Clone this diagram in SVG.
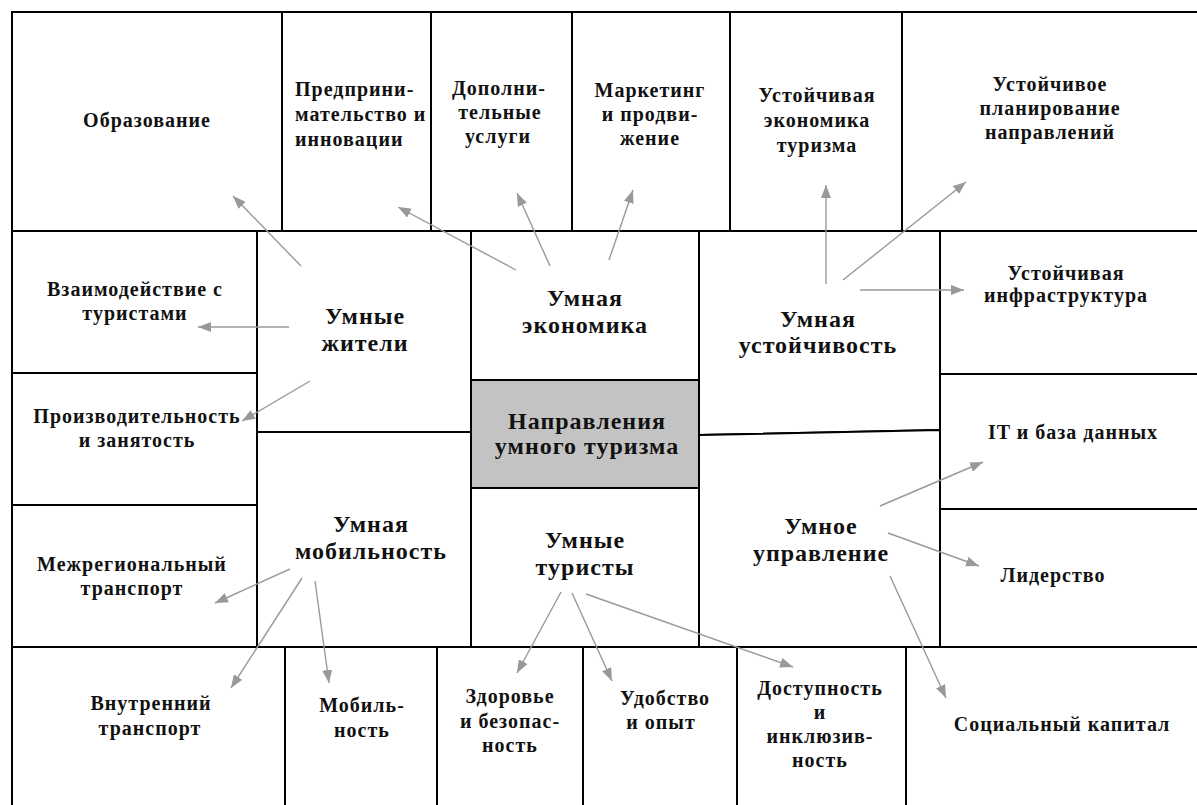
<svg xmlns="http://www.w3.org/2000/svg" width="1197" height="805" viewBox="0 0 1197 805">
<style>
.box{fill:#fff;stroke:#000;stroke-width:2}
.hub{fill:#c3c3c3;stroke:#000;stroke-width:2}
.t{font-family:'Liberation Serif','Times New Roman','DejaVu Serif',serif;font-weight:700;font-size:20px;fill:#111;text-anchor:middle;letter-spacing:1px}
.l{text-anchor:start}
.b{font-size:24px}
.c{stroke:#999;stroke-width:1.4;fill:none;marker-end:url(#ah)}
</style>
<defs>
<marker id="ah" markerUnits="userSpaceOnUse" markerWidth="13" markerHeight="10" refX="13" refY="5" orient="auto">
<path d="M0,0 L13,5 L0,10 Z" fill="#999"/>
</marker>
</defs>
<rect width="1197" height="805" fill="#fff"/>
<g id="n-obrazovanie"><rect class="box" x="12" y="12" width="270" height="219"/><text class="t" x="147" y="127">Образование</text></g>
<g id="n-predprinimatelstvo"><rect class="box" x="282" y="12" width="149" height="219"/><text class="t l" x="295" y="96">Предприни-</text><text class="t l" x="295" y="121">мательство и</text><text class="t l" x="295" y="146">инновации</text></g>
<g id="n-dopolnitelnye"><rect class="box" x="431" y="12" width="141" height="219"/><text class="t" x="499" y="95">Дополни-</text><text class="t" x="500" y="119">тельные</text><text class="t" x="498" y="143">услуги</text></g>
<g id="n-marketing"><rect class="box" x="572" y="12" width="158" height="219"/><text class="t" x="650" y="97">Маркетинг</text><text class="t" x="650" y="121">и продви-</text><text class="t" x="650" y="145">жение</text></g>
<g id="n-ust-ekonomika"><rect class="box" x="730" y="12" width="172" height="219"/><text class="t" x="817" y="102">Устойчивая</text><text class="t" x="817" y="127">экономика</text><text class="t" x="817" y="152">туризма</text></g>
<g id="n-ust-planirovanie"><rect class="box" x="902" y="12" width="297" height="219"/><text class="t" x="1050" y="91">Устойчивое</text><text class="t" x="1050" y="115">планирование</text><text class="t" x="1050" y="139">направлений</text></g>
<g id="n-vzaimodeystvie"><rect class="box" x="12" y="231" width="245" height="142"/><text class="t" x="135" y="296">Взаимодействие с</text><text class="t" x="135" y="320">туристами</text></g>
<g id="n-proizvoditelnost"><rect class="box" x="12" y="373" width="245" height="132"/><text class="t" x="137" y="423">Производительность</text><text class="t" x="137" y="447">и занятость</text></g>
<g id="n-mezhregionalny"><rect class="box" x="12" y="505" width="245" height="142"/><text class="t" x="132" y="571">Межрегиональный</text><text class="t" x="132" y="595">транспорт</text></g>
<g id="n-zhiteli"><rect class="box" x="257" y="231" width="214" height="201"/><text class="t b" x="365" y="324">Умные</text><text class="t b" x="365" y="351">жители</text></g>
<g id="n-mobilnost"><rect class="box" x="257" y="432" width="214" height="215"/><text class="t b" x="371" y="532">Умная</text><text class="t b" x="371" y="559">мобильность</text></g>
<g id="n-ekonomika"><rect class="box" x="471" y="231" width="228" height="149"/><text class="t b" x="585" y="306">Умная</text><text class="t b" x="585" y="333">экономика</text></g>
<g id="n-center"><rect class="hub" x="471" y="380" width="228" height="108"/><text class="t b" x="587" y="429">Направления</text><text class="t b" x="587" y="454">умного туризма</text></g>
<g id="n-turisty"><rect class="box" x="471" y="488" width="228" height="159"/><text class="t b" x="585" y="548">Умные</text><text class="t b" x="585" y="575">туристы</text></g>
<g id="n-ustoychivost"><path class="box" d="M699,231 H940 V430 L699,435 Z"/><text class="t b" x="818" y="327">Умная</text><text class="t b" x="818" y="353">устойчивость</text></g>
<g id="n-upravlenie"><path class="box" d="M699,435 L940,430 V647 H699 Z"/><text class="t b" x="821" y="534">Умное</text><text class="t b" x="821" y="561">управление</text></g>
<g id="n-infrastruktura"><rect class="box" x="940" y="231" width="259" height="143"/><text class="t" x="1066" y="280">Устойчивая</text><text class="t" x="1066" y="302">инфраструктура</text></g>
<g id="n-it"><rect class="box" x="940" y="374" width="259" height="135"/><text class="t" x="1073" y="439">IT и база данных</text></g>
<g id="n-liderstvo"><rect class="box" x="940" y="509" width="259" height="138"/><text class="t" x="1053" y="582">Лидерство</text></g>
<g id="n-vnutrenniy"><rect class="box" x="12" y="647" width="273" height="160"/><text class="t" x="151" y="710">Внутренний</text><text class="t" x="150" y="735">транспорт</text></g>
<g id="n-mobilnost2"><rect class="box" x="285" y="647" width="152" height="160"/><text class="t" x="362" y="712">Мобиль-</text><text class="t" x="362" y="737">ность</text></g>
<g id="n-zdorovye"><rect class="box" x="437" y="647" width="146" height="160"/><text class="t" x="510" y="703">Здоровье</text><text class="t" x="510" y="728">и безопас-</text><text class="t" x="510" y="752">ность</text></g>
<g id="n-udobstvo"><rect class="box" x="583" y="647" width="154" height="160"/><text class="t" x="665" y="705">Удобство</text><text class="t" x="661" y="729">и опыт</text></g>
<g id="n-dostupnost"><rect class="box" x="737" y="647" width="169" height="160"/><text class="t" x="820" y="695">Доступность</text><text class="t" x="820" y="719">и</text><text class="t" x="820" y="743">инклюзив-</text><text class="t" x="820" y="767">ность</text></g>
<g id="n-socialny"><rect class="box" x="906" y="647" width="293" height="160"/><text class="t" x="1062" y="731">Социальный капитал</text></g>
<g id="connectors">
<line class="c" x1="301" y1="266" x2="233" y2="196"/>
<line class="c" x1="516" y1="270" x2="398" y2="207"/>
<line class="c" x1="550" y1="266" x2="517" y2="193"/>
<line class="c" x1="609" y1="260" x2="633" y2="190"/>
<line class="c" x1="826" y1="284" x2="826" y2="185"/>
<line class="c" x1="843" y1="280" x2="966" y2="182"/>
<line class="c" x1="860" y1="290" x2="964" y2="290"/>
<line class="c" x1="289" y1="327" x2="198" y2="327"/>
<line class="c" x1="310" y1="381" x2="242" y2="421"/>
<line class="c" x1="290" y1="569" x2="215" y2="603"/>
<line class="c" x1="302" y1="578" x2="231" y2="688"/>
<line class="c" x1="315" y1="581" x2="329" y2="683"/>
<line class="c" x1="561" y1="592" x2="517" y2="673"/>
<line class="c" x1="572" y1="593" x2="612" y2="681"/>
<line class="c" x1="586" y1="594" x2="793" y2="667"/>
<line class="c" x1="880" y1="506" x2="983" y2="462"/>
<line class="c" x1="888" y1="533" x2="979" y2="566"/>
<line class="c" x1="890" y1="576" x2="946" y2="698"/>
</g>
</svg>
